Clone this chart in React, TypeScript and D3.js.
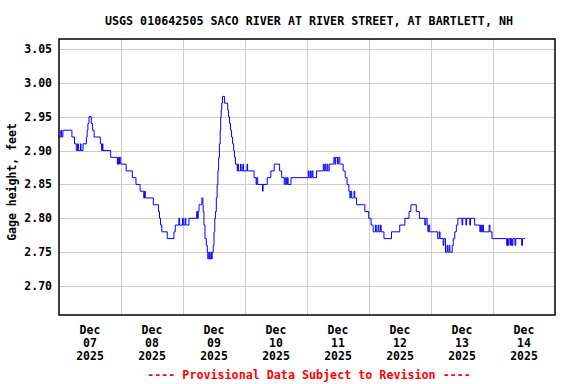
import React from "react";
import * as d3 from "d3";

const title = "USGS 010642505 SACO RIVER AT RIVER STREET, AT BARTLETT, NH";
const yAxisLabel = "Gage height, feet";
const footer = "---- Provisional Data Subject to Revision ----";
const yTicks = [2.7, 2.75, 2.8, 2.85, 2.9, 2.95, 3.0, 3.05];
const dayLabels = ["07", "08", "09", "10", "11", "12", "13", "14"];
const monthLabel = "Dec";
const yearLabel = "2025";

// hours since 2025-12-07 00:00, gage height (ft) — step series
const hours = [
  0, 0.7, 1.0, 1.5, 5.0, 6.0, 6.7, 7.2, 7.5, 8.3, 8.5, 9.3, 10.6, 10.9, 11.2, 11.6, 12.5, 13.0, 13.6,
  16.0, 16.5, 16.8, 17.0, 20.0, 22.6, 22.9, 23.1, 23.4, 23.9, 26.0, 28.4, 29.8, 31.4, 32.8, 33.1, 33.4,
  36.5, 38.5, 38.9, 39.3, 39.8, 41.9, 44.5, 45.0, 46.4, 46.7, 47.8, 48.1, 48.8, 49.1, 50.3, 53.3, 53.6,
  53.9, 54.2, 54.8, 55.3, 55.7, 55.8, 56.1, 56.5, 57.0, 57.4, 57.6, 58.0, 58.3, 58.8, 59.0, 59.3, 59.7,
  60.0, 60.3, 60.6, 60.9, 61.2, 61.5, 61.8, 62.1, 62.4, 62.6, 62.8, 63.0, 63.3, 64.1, 65.3, 65.6, 66.0,
  66.4, 66.8, 67.2, 67.6, 67.9, 68.3, 69.0, 69.3, 69.5, 70.3, 70.5, 71.2, 71.4, 72.8, 73.0, 75.5, 76.3,
  76.6, 76.9, 78.8, 79.0, 80.6, 82.0, 83.3, 85.4, 86.2, 87.2, 87.6, 88.0, 88.4, 88.7, 89.8, 96.5, 96.8,
  97.3, 97.6, 98.0, 98.3, 99.7, 102.3, 102.6, 103.0, 103.3, 103.8, 104.1, 104.6, 106.4, 106.8, 107.1,
  107.8, 108.1, 108.7, 110.0, 110.8, 111.5, 112.2, 112.6, 112.9, 113.3, 113.9, 114.2, 114.5, 115.2,
  118.4, 119.9, 120.8, 121.6, 122.5, 122.8, 123.5, 123.8, 124.4, 124.7, 125.8, 128.7, 131.9, 133.9,
  135.5, 136.2, 138.3, 139.5, 141.6, 142.0, 142.5, 142.8, 143.1, 143.5, 146.6, 147.2, 147.5, 148.7,
  149.0, 149.6, 150.2, 150.5, 151.0, 151.3, 152.2, 152.6, 153.2, 153.8, 154.4, 155.2, 156.0, 156.3,
  157.5, 157.8, 159.0, 159.3, 160.9, 162.9, 163.2, 163.5, 164.0, 164.3, 166.5, 166.8, 167.6, 173.3,
  173.6, 173.9, 174.2, 174.8, 175.1, 175.4, 175.7, 176.5, 176.8, 179.1, 179.4, 180.3,
];
const heights = [
  2.92, 2.93, 2.92, 2.93, 2.92, 2.91, 2.90, 2.91, 2.90, 2.91, 2.90, 2.91, 2.92, 2.93, 2.94, 2.95, 2.94, 2.93, 2.92,
  2.91, 2.90, 2.91, 2.90, 2.89, 2.88, 2.89, 2.88, 2.89, 2.88, 2.87, 2.86, 2.85, 2.84, 2.83, 2.84, 2.83,
  2.82, 2.81, 2.80, 2.79, 2.78, 2.77, 2.78, 2.79, 2.80, 2.79, 2.80, 2.79, 2.80, 2.79, 2.80, 2.81, 2.80,
  2.81, 2.82, 2.82, 2.83, 2.82, 2.81, 2.79, 2.77, 2.76, 2.75, 2.74, 2.75, 2.74, 2.75, 2.74, 2.75, 2.76,
  2.78, 2.80, 2.81, 2.83, 2.85, 2.87, 2.89, 2.91, 2.93, 2.95, 2.96, 2.97, 2.98, 2.97, 2.96, 2.95, 2.94,
  2.93, 2.92, 2.91, 2.90, 2.89, 2.88, 2.87, 2.88, 2.87, 2.88, 2.87, 2.88, 2.87, 2.88, 2.87, 2.86, 2.85,
  2.86, 2.85, 2.84, 2.85, 2.86, 2.87, 2.88, 2.87, 2.86, 2.85, 2.86, 2.85, 2.86, 2.85, 2.86, 2.87, 2.86,
  2.87, 2.86, 2.87, 2.86, 2.87, 2.88, 2.87, 2.88, 2.87, 2.88, 2.87, 2.88, 2.89, 2.88, 2.89,
  2.88, 2.89, 2.88, 2.87, 2.86, 2.85, 2.84, 2.83, 2.84, 2.83, 2.83, 2.84, 2.83, 2.82,
  2.81, 2.80, 2.79, 2.78, 2.79, 2.78, 2.79, 2.78, 2.79, 2.78, 2.77, 2.78, 2.79, 2.80,
  2.81, 2.82, 2.81, 2.80, 2.79, 2.80, 2.79, 2.78, 2.79, 2.78, 2.77, 2.78, 2.77, 2.76,
  2.77, 2.75, 2.76, 2.75, 2.76, 2.75, 2.76, 2.77, 2.78, 2.79, 2.80, 2.80, 2.79, 2.80,
  2.79, 2.80, 2.79, 2.80, 2.79, 2.78, 2.79, 2.78, 2.79, 2.78, 2.79, 2.78, 2.77, 2.76,
  2.77, 2.76, 2.77, 2.76, 2.77, 2.76, 2.77, 2.76, 2.77, 2.76, 2.77, 2.77,
];

const FONT = "'DejaVu Sans Mono', 'Liberation Mono', monospace";

export default function App() {
  const W = 576, H = 384;
  const left = 59, right = 555, top = 39, bottom = 315;
  const start = Date.UTC(2025, 11, 7);
  const end = Date.UTC(2025, 11, 15);
  const x = d3.scaleUtc().domain([new Date(start), new Date(end)]).range([left, right]);
  const y = d3.scaleLinear().domain([2.7, 3.05]).range([286, 49]);

  const data = hours.map((h, i) => ({ t: new Date(start + h * 3600e3), v: heights[i] }));
  const line = d3
    .line<{ t: Date; v: number }>()
    .x((d) => x(d.t))
    .y((d) => y(d.v))
    .curve(d3.curveStepAfter);

  const days = d3.utcDay.range(new Date(start), new Date(end + 1));
  const inner = days.slice(1, -1);
  const labelDays = days.slice(0, 8);

  return (
    <svg
      width={W}
      height={H}
      style={{ position: "absolute", left: 0, top: 0, background: "#fff" }}
      fontFamily={FONT}
      fontWeight="bold"
    >
      <rect x={0} y={0} width={W} height={H} fill="#fff" />
      <text x={309} y={25} textAnchor="middle" fontSize={11.7} fill="#000">
        {title}
      </text>
      {/* grid */}
      {yTicks.map((t) => (
        <line key={"gy" + t} x1={left} x2={right} y1={Math.round(y(t)) + 0.5} y2={Math.round(y(t)) + 0.5} stroke="#cccccc" strokeWidth={1} />
      ))}
      {inner.map((d, i) => (
        <line key={"gx" + i} x1={Math.round(x(d)) + 0.5} x2={Math.round(x(d)) + 0.5} y1={top} y2={bottom} stroke="#cccccc" strokeWidth={1} />
      ))}
      {/* data */}
      <path d={line(data) || ""} fill="none" stroke="#0000ff" strokeWidth={1} />
      {/* frame */}
      <rect x={left} y={top} width={right - left} height={bottom - top} fill="none" stroke="#000" strokeWidth={1.5} />
      {/* y ticks */}
      {yTicks.map((t) => (
        <text key={"ty" + t} x={52} y={y(t) + 4} textAnchor="end" fontSize={11.5} fill="#000">
          {t.toFixed(2)}
        </text>
      ))}
      <text
        transform={`translate(16, ${(top + bottom) / 2 + 5}) rotate(-90)`}
        textAnchor="middle"
        fontSize={11.5}
        fill="#000"
      >
        {yAxisLabel}
      </text>
      {/* x labels */}
      {labelDays.map((d, i) => {
        const cx = x(new Date(d.getTime() + 12 * 3600e3));
        return (
          <g key={"tx" + i}>
            <text x={cx} y={334} textAnchor="middle" fontSize={11.5} fill="#000">{monthLabel}</text>
            <text x={cx} y={347} textAnchor="middle" fontSize={11.5} fill="#000">{dayLabels[i]}</text>
            <text x={cx} y={360} textAnchor="middle" fontSize={11.5} fill="#000">{yearLabel}</text>
          </g>
        );
      })}
      <text x={309} y={379} textAnchor="middle" fontSize={11.7} fill="#ff0000">
        {footer}
      </text>
    </svg>
  );
}
